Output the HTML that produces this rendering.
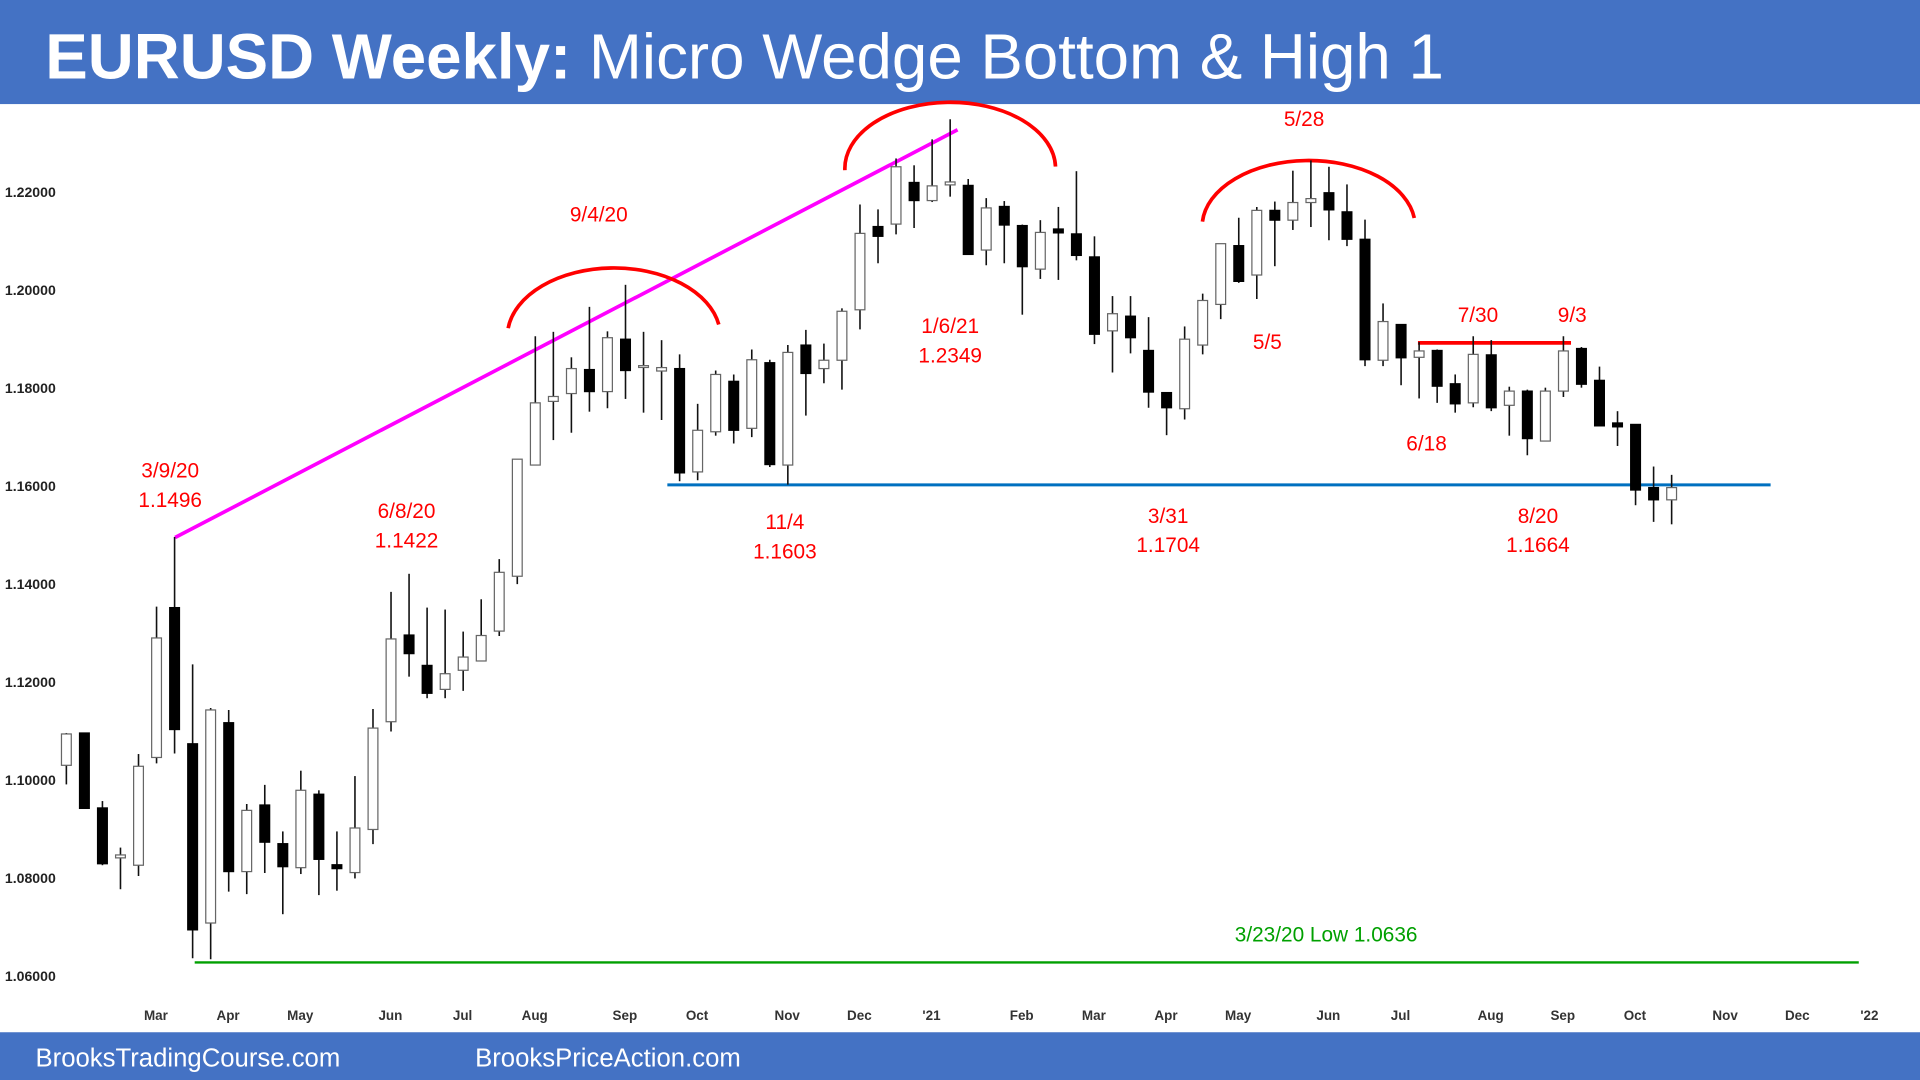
<!DOCTYPE html>
<html><head><meta charset="utf-8"><style>
html,body{margin:0;padding:0;background:#fff;}
svg{display:block;}
</style></head><body>
<svg id="chart" width="1920" height="1080" viewBox="0 0 1568 882" xmlns="http://www.w3.org/2000/svg" font-family="Liberation Sans, sans-serif">
<rect x="0" y="0" width="1568" height="882" fill="#fff"/>
<rect x="0" y="0" width="1568" height="85" fill="#4472C4"/>
<text x="37" y="64" fill="#fff" font-size="52"><tspan font-weight="bold">EURUSD Weekly:</tspan> Micro Wedge Bottom &amp; High 1</text>
<rect x="0" y="843" width="1568" height="39" fill="#4472C4"/>
<text x="29" y="871" fill="#fff" font-size="21">BrooksTradingCourse.com</text>
<text x="388" y="871" fill="#fff" font-size="21">BrooksPriceAction.com</text>
<g id="yaxis"></g>
<g id="xaxis"></g>
<g id="overlays">
<line x1="143" y1="439" x2="782" y2="106" stroke="#FF00FF" stroke-width="3"/>
<line x1="545" y1="396" x2="1446" y2="396" stroke="#0070C0" stroke-width="2.5"/>
<line x1="1158" y1="280" x2="1283" y2="280" stroke="#FF0000" stroke-width="3"/>
<line x1="159" y1="786" x2="1518" y2="786" stroke="#00A000" stroke-width="2"/>
<path d="M415 268 A87 56 0 0 1 587 265" fill="none" stroke="#FF0000" stroke-width="3"/>
<path d="M690 139 A86 54 0 0 1 862 136" fill="none" stroke="#FF0000" stroke-width="3"/>
<path d="M982 181 A87 54 0 0 1 1155 178" fill="none" stroke="#FF0000" stroke-width="3"/>
<g fill="#FF0000" font-size="17" text-anchor="middle">
<text x="139" y="390">3/9/20</text>
<text x="139" y="414">1.1496</text>
<text x="332" y="423">6/8/20</text>
<text x="332" y="447">1.1422</text>
<text x="489" y="181">9/4/20</text>
<text x="776" y="272">1/6/21</text>
<text x="776" y="296">1.2349</text>
<text x="641" y="432">11/4</text>
<text x="641" y="456">1.1603</text>
<text x="1065" y="103">5/28</text>
<text x="1035" y="285">5/5</text>
<text x="954" y="427">3/31</text>
<text x="954" y="451">1.1704</text>
<text x="1207" y="263">7/30</text>
<text x="1284" y="263">9/3</text>
<text x="1165" y="368">6/18</text>
<text x="1256" y="427">8/20</text>
<text x="1256" y="451">1.1664</text>
</g>
<text x="1083" y="769" fill="#00A000" font-size="17" text-anchor="middle">3/23/20 Low 1.0636</text>
</g>
<g id="candles"></g>
</svg>
<script>
const opens = [1.1030,1.1096,1.0943,1.0841,1.0826,1.1046,1.1352,1.1074,1.0708,1.1117,1.0813,1.0949,1.0870,1.0821,1.0971,1.0827,1.0811,1.0899,1.1119,1.1296,1.1234,1.1185,1.1224,1.1243,1.1304,1.1416,1.1643,1.1773,1.1789,1.1838,1.1793,1.1900,1.1846,1.1835,1.1840,1.1629,1.1711,1.1814,1.1718,1.1852,1.1643,1.1888,1.1840,1.1857,1.1960,1.2130,1.2135,1.2220,1.2183,1.2215,1.2214,1.2082,1.2171,1.2132,1.2043,1.2125,1.2115,1.2068,1.1917,1.1947,1.1877,1.1791,1.1758,1.1888,1.1971,1.2091,1.2031,1.2163,1.2143,1.2179,1.2199,1.2160,1.2104,1.1857,1.1930,1.1863,1.1877,1.1809,1.1770,1.1868,1.1765,1.1794,1.1692,1.1794,1.1881,1.1816,1.1729,1.1726,1.1597,1.1572];
const highs = [1.1096,1.1096,1.0957,1.0862,1.1053,1.1354,1.1496,1.1236,1.1147,1.1143,1.0951,1.0990,1.0895,1.1019,1.0979,1.0895,1.1008,1.1145,1.1384,1.1421,1.1352,1.1348,1.1303,1.1369,1.1451,1.1655,1.1906,1.1915,1.1863,1.1966,1.1916,1.2011,1.1915,1.1898,1.1869,1.1768,1.1836,1.1828,1.1879,1.1858,1.1888,1.1919,1.1891,1.1963,1.2175,1.2165,1.2269,1.2255,1.2308,1.2349,1.2227,1.2188,1.2182,1.2134,1.2143,1.2170,1.2243,1.2110,1.1988,1.1988,1.1945,1.1792,1.1926,1.1993,1.2095,1.2148,1.2170,1.2181,1.2244,1.2265,1.2252,1.2216,1.2144,1.1973,1.1930,1.1894,1.1879,1.1828,1.1906,1.1898,1.1803,1.1797,1.1801,1.1906,1.1884,1.1844,1.1753,1.1726,1.1640,1.1623];
const lows = [1.0991,1.0942,1.0826,1.0777,1.0804,1.1034,1.1054,1.0636,1.0634,1.0772,1.0767,1.0810,1.0726,1.0808,1.0765,1.0774,1.0799,1.0869,1.1099,1.1211,1.1167,1.1167,1.1182,1.1243,1.1294,1.1400,1.1643,1.1694,1.1709,1.1752,1.1759,1.1778,1.1750,1.1735,1.1610,1.1612,1.1703,1.1687,1.1700,1.1639,1.1603,1.1744,1.1810,1.1797,1.1920,1.2055,1.2114,1.2127,1.2180,1.2191,1.2073,1.2051,1.2055,1.1950,1.2023,1.2021,1.2061,1.1890,1.1832,1.1871,1.1760,1.1704,1.1736,1.1869,1.1941,1.2015,1.1982,1.2049,1.2123,1.2129,1.2102,1.2090,1.1845,1.1845,1.1806,1.1779,1.1770,1.1750,1.1761,1.1753,1.1703,1.1663,1.1692,1.1782,1.1801,1.1723,1.1682,1.1561,1.1527,1.1522];
const closes = [1.1094,1.0942,1.0829,1.0847,1.1028,1.1290,1.1103,1.0694,1.1143,1.0813,1.0938,1.0873,1.0823,1.0979,1.0838,1.0819,1.0902,1.1106,1.1288,1.1258,1.1177,1.1217,1.1251,1.1295,1.1424,1.1655,1.1770,1.1783,1.1840,1.1793,1.1903,1.1836,1.1846,1.1842,1.1627,1.1714,1.1828,1.1714,1.1858,1.1644,1.1873,1.1830,1.1857,1.1957,1.2116,1.2110,1.2252,1.2183,1.2213,1.2221,1.2073,1.2168,1.2133,1.2048,1.2118,1.2117,1.2071,1.1910,1.1952,1.1903,1.1792,1.1760,1.1900,1.1979,1.2095,1.2018,1.2163,1.2143,1.2179,1.2187,1.2164,1.2104,1.1858,1.1936,1.1862,1.1876,1.1804,1.1768,1.1869,1.1760,1.1794,1.1697,1.1794,1.1876,1.1808,1.1723,1.1721,1.1592,1.1572,1.1597];
const yTicks = [1.06,1.08,1.10,1.12,1.14,1.16,1.18,1.20,1.22];
const monthLabels = ["Mar","Apr","May","Jun","Jul","Aug","Sep","Oct","Nov","Dec","'21","Feb","Mar","Apr","May","Jun","Jul","Aug","Sep","Oct","Nov","Dec","'22"];
const monthWeekIdx = [5,9,13,18,22,26,31,35,40,44,48,53,57,61,65,70,74,79,83,87,92,96,100];

const NS = "http://www.w3.org/2000/svg";
function yScale(p){ return 797 - (p - 1.06) * 4000; }
function xScale(i){ return 54.2 + i * 14.73; }
function mk(tag, attrs, parent){
  const e = document.createElementNS(NS, tag);
  for (const k in attrs) e.setAttribute(k, attrs[k]);
  parent.appendChild(e); return e;
}
const yg = document.getElementById('yaxis');
yTicks.forEach(function(v){
  const t = mk('text', {x: 4, y: yScale(v) + 4, 'font-size': 11.5, 'font-weight': 'bold', fill: '#222'}, yg);
  
  
  t.textContent = v.toFixed(5);
});
const xg = document.getElementById('xaxis');
monthLabels.forEach(function(m, k){
  const t = mk('text', {x: xScale(monthWeekIdx[k]) - 0.5, y: 833, 'font-size': 11, 'font-weight': 'bold', fill: '#333', 'text-anchor': 'middle'}, xg);
  
  
  t.textContent = m;
});
const cg = document.getElementById('candles');
for (let i = 0; i < opens.length; i++){
  const x = xScale(i);
  const o = opens[i], c = closes[i], h = highs[i], l = lows[i];
  const g = mk('g', {}, cg);
  
  
  const w = mk('line', {x1: x, x2: x, y1: yScale(h), y2: yScale(l), stroke: '#111', 'stroke-width': 1.3}, g);
  
  
  const top = yScale(Math.max(o, c)), bot = yScale(Math.min(o, c));
  const bull = c >= o;
  const b = mk('rect', {x: x - 4, y: top, width: 8, height: Math.max(bot - top, 1.5), fill: bull ? '#fff' : '#000', stroke: bull ? '#666' : '#000', 'stroke-width': 1}, g);
  
  
}
</script>
</body></html>
